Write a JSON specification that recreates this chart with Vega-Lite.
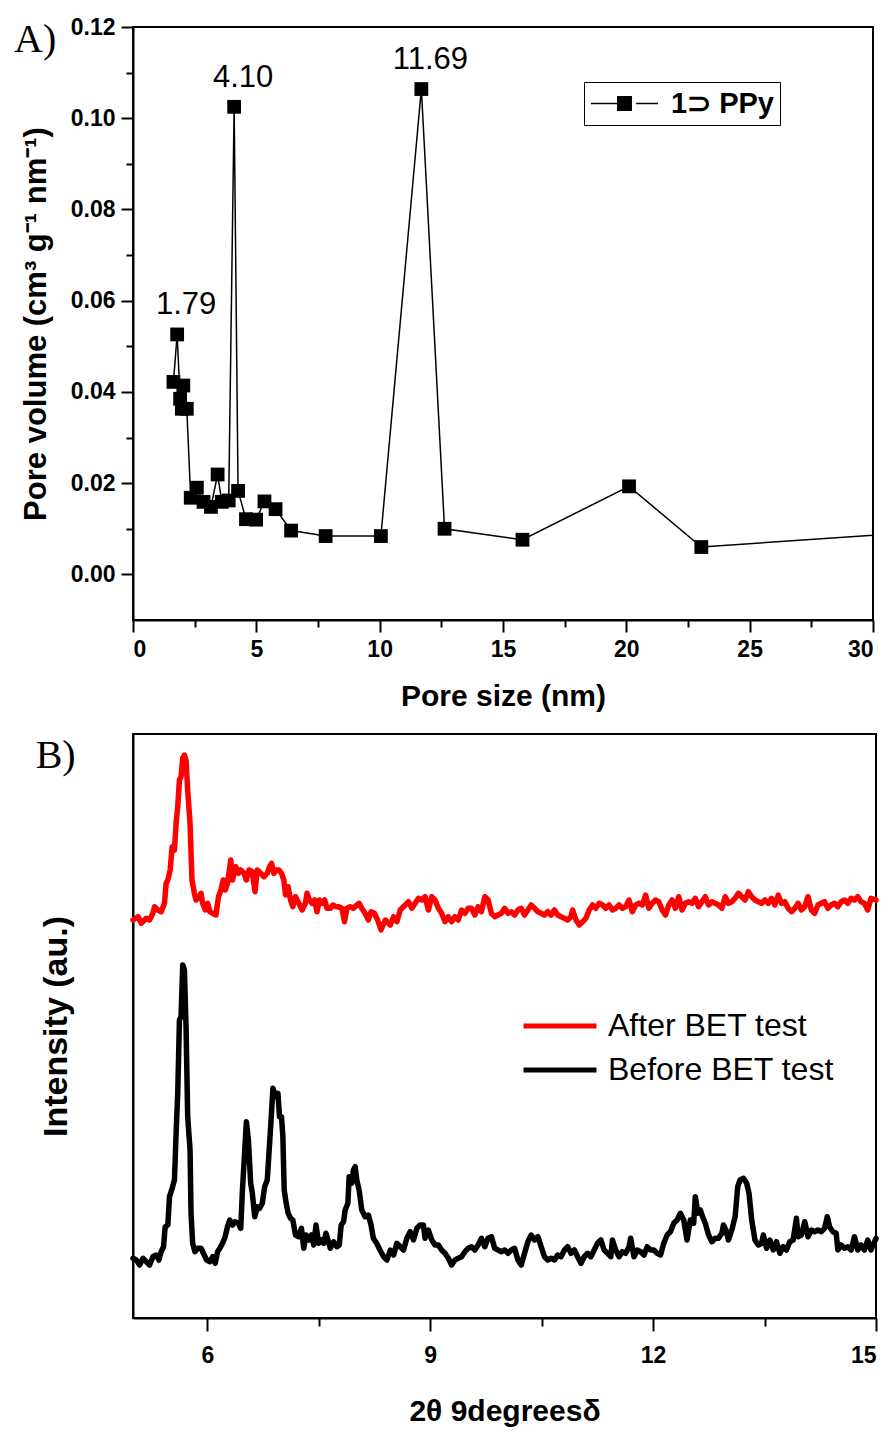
{
"$schema": "https://vega.github.io/schema/vega-lite/v6.json",
"background": "white",
"padding": {"left": 13, "top": 15, "right": 5, "bottom": 5},
"spacing": 21,
"resolve": {"scale": {"color": "independent"}, "legend": {"color": "independent"}},
"config": {
  "view": {"stroke": "black", "strokeWidth": 2},
  "axis": {"domainColor": "black", "tickColor": "black", "labelColor": "black", "titleColor": "black", "grid": false, "domainWidth": 2, "tickWidth": 2, "labelFont": "Liberation Sans", "titleFont": "Liberation Sans", "labelFontWeight": "bold", "titleFontWeight": "bold"}
},
"datasets": {
  "pore": [
    {"size": 1.64, "vol": 0.0422, "series": "1⊃ PPy"},
    {"size": 1.79, "vol": 0.0526, "series": "1⊃ PPy", "label": "1.79"},
    {"size": 1.91, "vol": 0.0385, "series": "1⊃ PPy"},
    {"size": 1.98, "vol": 0.0363, "series": "1⊃ PPy"},
    {"size": 2.04, "vol": 0.0414, "series": "1⊃ PPy"},
    {"size": 2.18, "vol": 0.0363, "series": "1⊃ PPy"},
    {"size": 2.34, "vol": 0.0168, "series": "1⊃ PPy"},
    {"size": 2.59, "vol": 0.0190, "series": "1⊃ PPy"},
    {"size": 2.86, "vol": 0.0159, "series": "1⊃ PPy"},
    {"size": 3.16, "vol": 0.0148, "series": "1⊃ PPy"},
    {"size": 3.43, "vol": 0.0219, "series": "1⊃ PPy"},
    {"size": 3.60, "vol": 0.0159, "series": "1⊃ PPy"},
    {"size": 3.88, "vol": 0.0162, "series": "1⊃ PPy"},
    {"size": 4.10, "vol": 0.1025, "series": "1⊃ PPy", "label": "4.10"},
    {"size": 4.26, "vol": 0.0183, "series": "1⊃ PPy"},
    {"size": 4.58, "vol": 0.0121, "series": "1⊃ PPy"},
    {"size": 4.99, "vol": 0.0120, "series": "1⊃ PPy"},
    {"size": 5.33, "vol": 0.0160, "series": "1⊃ PPy"},
    {"size": 5.78, "vol": 0.0143, "series": "1⊃ PPy"},
    {"size": 6.41, "vol": 0.0096, "series": "1⊃ PPy"},
    {"size": 7.81, "vol": 0.0084, "series": "1⊃ PPy"},
    {"size": 10.05, "vol": 0.0084, "series": "1⊃ PPy"},
    {"size": 11.69, "vol": 0.1064, "series": "1⊃ PPy", "label": "11.69"},
    {"size": 12.63, "vol": 0.0100, "series": "1⊃ PPy"},
    {"size": 15.79, "vol": 0.0076, "series": "1⊃ PPy"},
    {"size": 20.11, "vol": 0.0193, "series": "1⊃ PPy"},
    {"size": 23.04, "vol": 0.0060, "series": "1⊃ PPy"},
    {"size": 33.0, "vol": 0.0097, "series": "1⊃ PPy"}
  ],
  "xrd": [
    {"theta":5.000,"intensity":398,"series":"After BET test"},
    {"theta":5.067,"intensity":401.3,"series":"After BET test"},
    {"theta":5.112,"intensity":394.7,"series":"After BET test"},
    {"theta":5.178,"intensity":399.7,"series":"After BET test"},
    {"theta":5.223,"intensity":398,"series":"After BET test"},
    {"theta":5.268,"intensity":404.7,"series":"After BET test"},
    {"theta":5.290,"intensity":411.3,"series":"After BET test"},
    {"theta":5.335,"intensity":408,"series":"After BET test"},
    {"theta":5.379,"intensity":406.3,"series":"After BET test"},
    {"theta":5.424,"intensity":414.7,"series":"After BET test"},
    {"theta":5.446,"intensity":434.7,"series":"After BET test"},
    {"theta":5.469,"intensity":438,"series":"After BET test"},
    {"theta":5.500,"intensity":448,"series":"After BET test"},
    {"theta":5.527,"intensity":471.3,"series":"After BET test"},
    {"theta":5.558,"intensity":468,"series":"After BET test"},
    {"theta":5.580,"intensity":494.7,"series":"After BET test"},
    {"theta":5.602,"intensity":511.3,"series":"After BET test"},
    {"theta":5.625,"intensity":538,"series":"After BET test"},
    {"theta":5.647,"intensity":541.3,"series":"After BET test"},
    {"theta":5.669,"intensity":559.7,"series":"After BET test"},
    {"theta":5.692,"intensity":563,"series":"After BET test"},
    {"theta":5.714,"intensity":558,"series":"After BET test"},
    {"theta":5.736,"intensity":528,"series":"After BET test"},
    {"theta":5.768,"intensity":494.7,"series":"After BET test"},
    {"theta":5.794,"intensity":438,"series":"After BET test"},
    {"theta":5.826,"intensity":424.7,"series":"After BET test"},
    {"theta":5.848,"intensity":418,"series":"After BET test"},
    {"theta":5.892,"intensity":421.3,"series":"After BET test"},
    {"theta":5.915,"intensity":424.7,"series":"After BET test"},
    {"theta":5.937,"intensity":414.7,"series":"After BET test"},
    {"theta":5.973,"intensity":408,"series":"After BET test"},
    {"theta":6.004,"intensity":414.7,"series":"After BET test"},
    {"theta":6.035,"intensity":406.3,"series":"After BET test"},
    {"theta":6.071,"intensity":404.7,"series":"After BET test"},
    {"theta":6.116,"intensity":403,"series":"After BET test"},
    {"theta":6.151,"intensity":421.3,"series":"After BET test"},
    {"theta":6.183,"intensity":428,"series":"After BET test"},
    {"theta":6.214,"intensity":438,"series":"After BET test"},
    {"theta":6.241,"intensity":428,"series":"After BET test"},
    {"theta":6.272,"intensity":434.7,"series":"After BET test"},
    {"theta":6.316,"intensity":458,"series":"After BET test"},
    {"theta":6.339,"intensity":438,"series":"After BET test"},
    {"theta":6.383,"intensity":451.3,"series":"After BET test"},
    {"theta":6.419,"intensity":444.7,"series":"After BET test"},
    {"theta":6.450,"intensity":448,"series":"After BET test"},
    {"theta":6.495,"intensity":444.7,"series":"After BET test"},
    {"theta":6.526,"intensity":438,"series":"After BET test"},
    {"theta":6.562,"intensity":448,"series":"After BET test"},
    {"theta":6.606,"intensity":446.3,"series":"After BET test"},
    {"theta":6.642,"intensity":426.3,"series":"After BET test"},
    {"theta":6.673,"intensity":448,"series":"After BET test"},
    {"theta":6.718,"intensity":444.7,"series":"After BET test"},
    {"theta":6.763,"intensity":441.3,"series":"After BET test"},
    {"theta":6.807,"intensity":444.7,"series":"After BET test"},
    {"theta":6.838,"intensity":451.3,"series":"After BET test"},
    {"theta":6.865,"intensity":454.7,"series":"After BET test"},
    {"theta":6.896,"intensity":444.7,"series":"After BET test"},
    {"theta":6.928,"intensity":448,"series":"After BET test"},
    {"theta":6.963,"intensity":448,"series":"After BET test"},
    {"theta":6.999,"intensity":444.7,"series":"After BET test"},
    {"theta":7.030,"intensity":438,"series":"After BET test"},
    {"theta":7.053,"intensity":423,"series":"After BET test"},
    {"theta":7.088,"intensity":431.3,"series":"After BET test"},
    {"theta":7.120,"intensity":418,"series":"After BET test"},
    {"theta":7.151,"intensity":411.3,"series":"After BET test"},
    {"theta":7.187,"intensity":421.3,"series":"After BET test"},
    {"theta":7.231,"intensity":414.7,"series":"After BET test"},
    {"theta":7.276,"intensity":408,"series":"After BET test"},
    {"theta":7.320,"intensity":414.7,"series":"After BET test"},
    {"theta":7.343,"intensity":424.7,"series":"After BET test"},
    {"theta":7.374,"intensity":418,"series":"After BET test"},
    {"theta":7.410,"intensity":414.7,"series":"After BET test"},
    {"theta":7.445,"intensity":418,"series":"After BET test"},
    {"theta":7.477,"intensity":406.3,"series":"After BET test"},
    {"theta":7.508,"intensity":418,"series":"After BET test"},
    {"theta":7.544,"intensity":414.7,"series":"After BET test"},
    {"theta":7.579,"intensity":418,"series":"After BET test"},
    {"theta":7.610,"intensity":409.7,"series":"After BET test"},
    {"theta":7.655,"intensity":409.7,"series":"After BET test"},
    {"theta":7.691,"intensity":413,"series":"After BET test"},
    {"theta":7.731,"intensity":411.3,"series":"After BET test"},
    {"theta":7.767,"intensity":411.3,"series":"After BET test"},
    {"theta":7.811,"intensity":409.7,"series":"After BET test"},
    {"theta":7.847,"intensity":396.3,"series":"After BET test"},
    {"theta":7.878,"intensity":409.7,"series":"After BET test"},
    {"theta":7.923,"intensity":411.3,"series":"After BET test"},
    {"theta":7.967,"intensity":409.7,"series":"After BET test"},
    {"theta":8.012,"intensity":413,"series":"After BET test"},
    {"theta":8.043,"intensity":414.7,"series":"After BET test"},
    {"theta":8.079,"intensity":409.7,"series":"After BET test"},
    {"theta":8.124,"intensity":404.7,"series":"After BET test"},
    {"theta":8.168,"intensity":398,"series":"After BET test"},
    {"theta":8.204,"intensity":406.3,"series":"After BET test"},
    {"theta":8.249,"intensity":404.7,"series":"After BET test"},
    {"theta":8.293,"intensity":398,"series":"After BET test"},
    {"theta":8.338,"intensity":388,"series":"After BET test"},
    {"theta":8.396,"intensity":398,"series":"After BET test"},
    {"theta":8.463,"intensity":393,"series":"After BET test"},
    {"theta":8.507,"intensity":401.3,"series":"After BET test"},
    {"theta":8.552,"intensity":396.3,"series":"After BET test"},
    {"theta":8.597,"intensity":408,"series":"After BET test"},
    {"theta":8.664,"intensity":413,"series":"After BET test"},
    {"theta":8.708,"intensity":416.3,"series":"After BET test"},
    {"theta":8.753,"intensity":409.7,"series":"After BET test"},
    {"theta":8.797,"intensity":414.7,"series":"After BET test"},
    {"theta":8.842,"intensity":419.7,"series":"After BET test"},
    {"theta":8.887,"intensity":418,"series":"After BET test"},
    {"theta":8.931,"intensity":421.3,"series":"After BET test"},
    {"theta":8.976,"intensity":408,"series":"After BET test"},
    {"theta":9.021,"intensity":421.3,"series":"After BET test"},
    {"theta":9.065,"intensity":418,"series":"After BET test"},
    {"theta":9.110,"intensity":409.7,"series":"After BET test"},
    {"theta":9.154,"intensity":404.7,"series":"After BET test"},
    {"theta":9.199,"intensity":396.3,"series":"After BET test"},
    {"theta":9.244,"intensity":401.3,"series":"After BET test"},
    {"theta":9.288,"intensity":396.3,"series":"After BET test"},
    {"theta":9.333,"intensity":401.3,"series":"After BET test"},
    {"theta":9.378,"intensity":398,"series":"After BET test"},
    {"theta":9.422,"intensity":408,"series":"After BET test"},
    {"theta":9.467,"intensity":404.7,"series":"After BET test"},
    {"theta":9.511,"intensity":409.7,"series":"After BET test"},
    {"theta":9.556,"intensity":409.7,"series":"After BET test"},
    {"theta":9.601,"intensity":403,"series":"After BET test"},
    {"theta":9.645,"intensity":411.3,"series":"After BET test"},
    {"theta":9.690,"intensity":406.3,"series":"After BET test"},
    {"theta":9.735,"intensity":421.3,"series":"After BET test"},
    {"theta":9.779,"intensity":418,"series":"After BET test"},
    {"theta":9.824,"intensity":404.7,"series":"After BET test"},
    {"theta":9.868,"intensity":401.3,"series":"After BET test"},
    {"theta":9.913,"intensity":403,"series":"After BET test"},
    {"theta":9.958,"intensity":404.7,"series":"After BET test"},
    {"theta":10.002,"intensity":409.7,"series":"After BET test"},
    {"theta":10.047,"intensity":404.7,"series":"After BET test"},
    {"theta":10.092,"intensity":406.3,"series":"After BET test"},
    {"theta":10.136,"intensity":403,"series":"After BET test"},
    {"theta":10.181,"intensity":408,"series":"After BET test"},
    {"theta":10.225,"intensity":409.7,"series":"After BET test"},
    {"theta":10.270,"intensity":403,"series":"After BET test"},
    {"theta":10.315,"intensity":408,"series":"After BET test"},
    {"theta":10.359,"intensity":413,"series":"After BET test"},
    {"theta":10.404,"intensity":409.7,"series":"After BET test"},
    {"theta":10.449,"intensity":406.3,"series":"After BET test"},
    {"theta":10.493,"intensity":404.7,"series":"After BET test"},
    {"theta":10.538,"intensity":403,"series":"After BET test"},
    {"theta":10.582,"intensity":406.3,"series":"After BET test"},
    {"theta":10.627,"intensity":403,"series":"After BET test"},
    {"theta":10.672,"intensity":408,"series":"After BET test"},
    {"theta":10.716,"intensity":403,"series":"After BET test"},
    {"theta":10.761,"intensity":401.3,"series":"After BET test"},
    {"theta":10.806,"intensity":399.7,"series":"After BET test"},
    {"theta":10.850,"intensity":398,"series":"After BET test"},
    {"theta":10.895,"intensity":401.3,"series":"After BET test"},
    {"theta":10.917,"intensity":408,"series":"After BET test"},
    {"theta":10.962,"intensity":398,"series":"After BET test"},
    {"theta":11.006,"intensity":393,"series":"After BET test"},
    {"theta":11.051,"intensity":396.3,"series":"After BET test"},
    {"theta":11.096,"intensity":399.7,"series":"After BET test"},
    {"theta":11.140,"intensity":408,"series":"After BET test"},
    {"theta":11.185,"intensity":413,"series":"After BET test"},
    {"theta":11.229,"intensity":409.7,"series":"After BET test"},
    {"theta":11.274,"intensity":414.7,"series":"After BET test"},
    {"theta":11.319,"intensity":413,"series":"After BET test"},
    {"theta":11.363,"intensity":409.7,"series":"After BET test"},
    {"theta":11.408,"intensity":413,"series":"After BET test"},
    {"theta":11.453,"intensity":408,"series":"After BET test"},
    {"theta":11.497,"intensity":409.7,"series":"After BET test"},
    {"theta":11.542,"intensity":413,"series":"After BET test"},
    {"theta":11.586,"intensity":409.7,"series":"After BET test"},
    {"theta":11.631,"intensity":411.3,"series":"After BET test"},
    {"theta":11.676,"intensity":418,"series":"After BET test"},
    {"theta":11.720,"intensity":406.3,"series":"After BET test"},
    {"theta":11.765,"intensity":413,"series":"After BET test"},
    {"theta":11.810,"intensity":414.7,"series":"After BET test"},
    {"theta":11.854,"intensity":413,"series":"After BET test"},
    {"theta":11.899,"intensity":423,"series":"After BET test"},
    {"theta":11.943,"intensity":409.7,"series":"After BET test"},
    {"theta":11.988,"intensity":414.7,"series":"After BET test"},
    {"theta":12.033,"intensity":418,"series":"After BET test"},
    {"theta":12.077,"intensity":416.3,"series":"After BET test"},
    {"theta":12.122,"intensity":408,"series":"After BET test"},
    {"theta":12.167,"intensity":403,"series":"After BET test"},
    {"theta":12.211,"intensity":413,"series":"After BET test"},
    {"theta":12.256,"intensity":418,"series":"After BET test"},
    {"theta":12.300,"intensity":409.7,"series":"After BET test"},
    {"theta":12.345,"intensity":421.3,"series":"After BET test"},
    {"theta":12.390,"intensity":408,"series":"After BET test"},
    {"theta":12.434,"intensity":414.7,"series":"After BET test"},
    {"theta":12.479,"intensity":416.3,"series":"After BET test"},
    {"theta":12.523,"intensity":414.7,"series":"After BET test"},
    {"theta":12.568,"intensity":419.7,"series":"After BET test"},
    {"theta":12.613,"intensity":411.3,"series":"After BET test"},
    {"theta":12.657,"intensity":416.3,"series":"After BET test"},
    {"theta":12.702,"intensity":421.3,"series":"After BET test"},
    {"theta":12.747,"intensity":413,"series":"After BET test"},
    {"theta":12.791,"intensity":416.3,"series":"After BET test"},
    {"theta":12.836,"intensity":414.7,"series":"After BET test"},
    {"theta":12.880,"intensity":413,"series":"After BET test"},
    {"theta":12.925,"intensity":409.7,"series":"After BET test"},
    {"theta":12.970,"intensity":421.3,"series":"After BET test"},
    {"theta":13.014,"intensity":414.7,"series":"After BET test"},
    {"theta":13.059,"intensity":416.3,"series":"After BET test"},
    {"theta":13.104,"intensity":419.7,"series":"After BET test"},
    {"theta":13.148,"intensity":424.7,"series":"After BET test"},
    {"theta":13.193,"intensity":421.3,"series":"After BET test"},
    {"theta":13.237,"intensity":418,"series":"After BET test"},
    {"theta":13.282,"intensity":426.3,"series":"After BET test"},
    {"theta":13.327,"intensity":421.3,"series":"After BET test"},
    {"theta":13.371,"intensity":418,"series":"After BET test"},
    {"theta":13.416,"intensity":416.3,"series":"After BET test"},
    {"theta":13.461,"intensity":414.7,"series":"After BET test"},
    {"theta":13.505,"intensity":418,"series":"After BET test"},
    {"theta":13.550,"intensity":414.7,"series":"After BET test"},
    {"theta":13.594,"intensity":419.7,"series":"After BET test"},
    {"theta":13.639,"intensity":413,"series":"After BET test"},
    {"theta":13.684,"intensity":423,"series":"After BET test"},
    {"theta":13.728,"intensity":414.7,"series":"After BET test"},
    {"theta":13.773,"intensity":416.3,"series":"After BET test"},
    {"theta":13.818,"intensity":409.7,"series":"After BET test"},
    {"theta":13.862,"intensity":406.3,"series":"After BET test"},
    {"theta":13.907,"intensity":409.7,"series":"After BET test"},
    {"theta":13.951,"intensity":414.7,"series":"After BET test"},
    {"theta":13.996,"intensity":408,"series":"After BET test"},
    {"theta":14.041,"intensity":411.3,"series":"After BET test"},
    {"theta":14.085,"intensity":421.3,"series":"After BET test"},
    {"theta":14.130,"intensity":408,"series":"After BET test"},
    {"theta":14.174,"intensity":404.7,"series":"After BET test"},
    {"theta":14.219,"intensity":413,"series":"After BET test"},
    {"theta":14.264,"intensity":414.7,"series":"After BET test"},
    {"theta":14.308,"intensity":416.3,"series":"After BET test"},
    {"theta":14.353,"intensity":409.7,"series":"After BET test"},
    {"theta":14.398,"intensity":413,"series":"After BET test"},
    {"theta":14.442,"intensity":414.7,"series":"After BET test"},
    {"theta":14.487,"intensity":411.3,"series":"After BET test"},
    {"theta":14.531,"intensity":416.3,"series":"After BET test"},
    {"theta":14.576,"intensity":418,"series":"After BET test"},
    {"theta":14.621,"intensity":414.7,"series":"After BET test"},
    {"theta":14.665,"intensity":419.7,"series":"After BET test"},
    {"theta":14.710,"intensity":418,"series":"After BET test"},
    {"theta":14.755,"intensity":421.3,"series":"After BET test"},
    {"theta":14.799,"intensity":416.3,"series":"After BET test"},
    {"theta":14.844,"intensity":414.7,"series":"After BET test"},
    {"theta":14.889,"intensity":408,"series":"After BET test"},
    {"theta":14.933,"intensity":419.7,"series":"After BET test"},
    {"theta":15.000,"intensity":418,"series":"After BET test"},
    {"theta":5.000,"intensity":59.7,"series":"Before BET test"},
    {"theta":5.045,"intensity":58,"series":"Before BET test"},
    {"theta":5.089,"intensity":53,"series":"Before BET test"},
    {"theta":5.134,"intensity":59.7,"series":"Before BET test"},
    {"theta":5.178,"intensity":56.3,"series":"Before BET test"},
    {"theta":5.223,"intensity":53,"series":"Before BET test"},
    {"theta":5.268,"intensity":61.3,"series":"Before BET test"},
    {"theta":5.312,"intensity":63,"series":"Before BET test"},
    {"theta":5.348,"intensity":58,"series":"Before BET test"},
    {"theta":5.379,"intensity":66.3,"series":"Before BET test"},
    {"theta":5.411,"intensity":71.3,"series":"Before BET test"},
    {"theta":5.433,"intensity":91.3,"series":"Before BET test"},
    {"theta":5.469,"intensity":93,"series":"Before BET test"},
    {"theta":5.491,"intensity":121.3,"series":"Before BET test"},
    {"theta":5.527,"intensity":129.7,"series":"Before BET test"},
    {"theta":5.558,"intensity":138,"series":"Before BET test"},
    {"theta":5.580,"intensity":184.7,"series":"Before BET test"},
    {"theta":5.602,"intensity":224.7,"series":"Before BET test"},
    {"theta":5.625,"intensity":298,"series":"Before BET test"},
    {"theta":5.647,"intensity":301.3,"series":"Before BET test"},
    {"theta":5.669,"intensity":353,"series":"Before BET test"},
    {"theta":5.692,"intensity":348,"series":"Before BET test"},
    {"theta":5.714,"intensity":291.3,"series":"Before BET test"},
    {"theta":5.736,"intensity":201.3,"series":"Before BET test"},
    {"theta":5.768,"intensity":168,"series":"Before BET test"},
    {"theta":5.781,"intensity":104.7,"series":"Before BET test"},
    {"theta":5.803,"intensity":74.7,"series":"Before BET test"},
    {"theta":5.834,"intensity":66.3,"series":"Before BET test"},
    {"theta":5.870,"intensity":69.7,"series":"Before BET test"},
    {"theta":5.915,"intensity":69.7,"series":"Before BET test"},
    {"theta":5.959,"intensity":63,"series":"Before BET test"},
    {"theta":5.991,"intensity":58,"series":"Before BET test"},
    {"theta":6.035,"intensity":56.3,"series":"Before BET test"},
    {"theta":6.071,"intensity":61.3,"series":"Before BET test"},
    {"theta":6.107,"intensity":54.7,"series":"Before BET test"},
    {"theta":6.138,"intensity":66.3,"series":"Before BET test"},
    {"theta":6.169,"intensity":69.7,"series":"Before BET test"},
    {"theta":6.205,"intensity":74.7,"series":"Before BET test"},
    {"theta":6.241,"intensity":81.3,"series":"Before BET test"},
    {"theta":6.272,"intensity":91.3,"series":"Before BET test"},
    {"theta":6.303,"intensity":98,"series":"Before BET test"},
    {"theta":6.339,"intensity":93,"series":"Before BET test"},
    {"theta":6.374,"intensity":96.3,"series":"Before BET test"},
    {"theta":6.419,"intensity":94.7,"series":"Before BET test"},
    {"theta":6.450,"intensity":89.7,"series":"Before BET test"},
    {"theta":6.473,"intensity":128,"series":"Before BET test"},
    {"theta":6.504,"intensity":168,"series":"Before BET test"},
    {"theta":6.526,"intensity":196.3,"series":"Before BET test"},
    {"theta":6.553,"intensity":178,"series":"Before BET test"},
    {"theta":6.584,"intensity":134.7,"series":"Before BET test"},
    {"theta":6.606,"intensity":124.7,"series":"Before BET test"},
    {"theta":6.638,"intensity":101.3,"series":"Before BET test"},
    {"theta":6.673,"intensity":111.3,"series":"Before BET test"},
    {"theta":6.705,"intensity":109.7,"series":"Before BET test"},
    {"theta":6.740,"intensity":114.7,"series":"Before BET test"},
    {"theta":6.772,"intensity":131.3,"series":"Before BET test"},
    {"theta":6.807,"intensity":138,"series":"Before BET test"},
    {"theta":6.830,"intensity":164.7,"series":"Before BET test"},
    {"theta":6.861,"intensity":201.3,"series":"Before BET test"},
    {"theta":6.883,"intensity":229.7,"series":"Before BET test"},
    {"theta":6.919,"intensity":221.3,"series":"Before BET test"},
    {"theta":6.950,"intensity":224.7,"series":"Before BET test"},
    {"theta":6.972,"intensity":201.3,"series":"Before BET test"},
    {"theta":6.999,"intensity":201.3,"series":"Before BET test"},
    {"theta":7.017,"intensity":181.3,"series":"Before BET test"},
    {"theta":7.035,"intensity":128,"series":"Before BET test"},
    {"theta":7.062,"intensity":114.7,"series":"Before BET test"},
    {"theta":7.088,"intensity":104.7,"series":"Before BET test"},
    {"theta":7.120,"intensity":99.7,"series":"Before BET test"},
    {"theta":7.151,"intensity":98,"series":"Before BET test"},
    {"theta":7.187,"intensity":83,"series":"Before BET test"},
    {"theta":7.231,"intensity":81.3,"series":"Before BET test"},
    {"theta":7.267,"intensity":89.7,"series":"Before BET test"},
    {"theta":7.298,"intensity":69.7,"series":"Before BET test"},
    {"theta":7.329,"intensity":83,"series":"Before BET test"},
    {"theta":7.365,"intensity":78,"series":"Before BET test"},
    {"theta":7.401,"intensity":83,"series":"Before BET test"},
    {"theta":7.432,"intensity":73,"series":"Before BET test"},
    {"theta":7.463,"intensity":93,"series":"Before BET test"},
    {"theta":7.499,"intensity":74.7,"series":"Before BET test"},
    {"theta":7.535,"intensity":78,"series":"Before BET test"},
    {"theta":7.566,"intensity":74.7,"series":"Before BET test"},
    {"theta":7.597,"intensity":84.7,"series":"Before BET test"},
    {"theta":7.624,"intensity":78,"series":"Before BET test"},
    {"theta":7.655,"intensity":69.7,"series":"Before BET test"},
    {"theta":7.700,"intensity":76.3,"series":"Before BET test"},
    {"theta":7.744,"intensity":71.3,"series":"Before BET test"},
    {"theta":7.776,"intensity":73,"series":"Before BET test"},
    {"theta":7.802,"intensity":93,"series":"Before BET test"},
    {"theta":7.834,"intensity":96.3,"series":"Before BET test"},
    {"theta":7.856,"intensity":108,"series":"Before BET test"},
    {"theta":7.892,"intensity":114.7,"series":"Before BET test"},
    {"theta":7.909,"intensity":141.3,"series":"Before BET test"},
    {"theta":7.945,"intensity":134.7,"series":"Before BET test"},
    {"theta":7.967,"intensity":148,"series":"Before BET test"},
    {"theta":7.990,"intensity":151.3,"series":"Before BET test"},
    {"theta":8.012,"intensity":138,"series":"Before BET test"},
    {"theta":8.043,"intensity":128,"series":"Before BET test"},
    {"theta":8.079,"intensity":108,"series":"Before BET test"},
    {"theta":8.124,"intensity":101.3,"series":"Before BET test"},
    {"theta":8.168,"intensity":103,"series":"Before BET test"},
    {"theta":8.204,"intensity":93,"series":"Before BET test"},
    {"theta":8.235,"intensity":79.7,"series":"Before BET test"},
    {"theta":8.280,"intensity":74.7,"series":"Before BET test"},
    {"theta":8.324,"intensity":68,"series":"Before BET test"},
    {"theta":8.373,"intensity":61.3,"series":"Before BET test"},
    {"theta":8.418,"intensity":58,"series":"Before BET test"},
    {"theta":8.463,"intensity":68,"series":"Before BET test"},
    {"theta":8.507,"intensity":63,"series":"Before BET test"},
    {"theta":8.552,"intensity":74.7,"series":"Before BET test"},
    {"theta":8.597,"intensity":71.3,"series":"Before BET test"},
    {"theta":8.641,"intensity":68,"series":"Before BET test"},
    {"theta":8.686,"intensity":79.7,"series":"Before BET test"},
    {"theta":8.730,"intensity":86.3,"series":"Before BET test"},
    {"theta":8.775,"intensity":78,"series":"Before BET test"},
    {"theta":8.820,"intensity":89.7,"series":"Before BET test"},
    {"theta":8.864,"intensity":93,"series":"Before BET test"},
    {"theta":8.909,"intensity":93,"series":"Before BET test"},
    {"theta":8.931,"intensity":79.7,"series":"Before BET test"},
    {"theta":8.976,"intensity":88,"series":"Before BET test"},
    {"theta":9.021,"intensity":78,"series":"Before BET test"},
    {"theta":9.065,"intensity":73,"series":"Before BET test"},
    {"theta":9.110,"intensity":73,"series":"Before BET test"},
    {"theta":9.154,"intensity":68,"series":"Before BET test"},
    {"theta":9.199,"intensity":64.7,"series":"Before BET test"},
    {"theta":9.244,"intensity":59.7,"series":"Before BET test"},
    {"theta":9.288,"intensity":53,"series":"Before BET test"},
    {"theta":9.333,"intensity":58,"series":"Before BET test"},
    {"theta":9.378,"intensity":59.7,"series":"Before BET test"},
    {"theta":9.422,"intensity":61.3,"series":"Before BET test"},
    {"theta":9.467,"intensity":66.3,"series":"Before BET test"},
    {"theta":9.511,"intensity":69.7,"series":"Before BET test"},
    {"theta":9.556,"intensity":71.3,"series":"Before BET test"},
    {"theta":9.601,"intensity":68,"series":"Before BET test"},
    {"theta":9.645,"intensity":73,"series":"Before BET test"},
    {"theta":9.690,"intensity":79.7,"series":"Before BET test"},
    {"theta":9.735,"intensity":71.3,"series":"Before BET test"},
    {"theta":9.779,"intensity":79.7,"series":"Before BET test"},
    {"theta":9.824,"intensity":81.3,"series":"Before BET test"},
    {"theta":9.868,"intensity":69.7,"series":"Before BET test"},
    {"theta":9.913,"intensity":68,"series":"Before BET test"},
    {"theta":9.958,"intensity":66.3,"series":"Before BET test"},
    {"theta":10.002,"intensity":68,"series":"Before BET test"},
    {"theta":10.047,"intensity":64.7,"series":"Before BET test"},
    {"theta":10.092,"intensity":68,"series":"Before BET test"},
    {"theta":10.136,"intensity":69.7,"series":"Before BET test"},
    {"theta":10.181,"intensity":58,"series":"Before BET test"},
    {"theta":10.225,"intensity":53,"series":"Before BET test"},
    {"theta":10.270,"intensity":64.7,"series":"Before BET test"},
    {"theta":10.315,"intensity":76.3,"series":"Before BET test"},
    {"theta":10.359,"intensity":83,"series":"Before BET test"},
    {"theta":10.404,"intensity":78,"series":"Before BET test"},
    {"theta":10.449,"intensity":81.3,"series":"Before BET test"},
    {"theta":10.493,"intensity":71.3,"series":"Before BET test"},
    {"theta":10.538,"intensity":61.3,"series":"Before BET test"},
    {"theta":10.582,"intensity":58,"series":"Before BET test"},
    {"theta":10.627,"intensity":59.7,"series":"Before BET test"},
    {"theta":10.672,"intensity":58,"series":"Before BET test"},
    {"theta":10.716,"intensity":63,"series":"Before BET test"},
    {"theta":10.761,"intensity":61.3,"series":"Before BET test"},
    {"theta":10.806,"intensity":68,"series":"Before BET test"},
    {"theta":10.850,"intensity":71.3,"series":"Before BET test"},
    {"theta":10.895,"intensity":64.7,"series":"Before BET test"},
    {"theta":10.940,"intensity":68,"series":"Before BET test"},
    {"theta":10.984,"intensity":61.3,"series":"Before BET test"},
    {"theta":11.029,"intensity":54.7,"series":"Before BET test"},
    {"theta":11.073,"intensity":61.3,"series":"Before BET test"},
    {"theta":11.118,"intensity":64.7,"series":"Before BET test"},
    {"theta":11.163,"intensity":61.3,"series":"Before BET test"},
    {"theta":11.207,"intensity":68,"series":"Before BET test"},
    {"theta":11.252,"intensity":74.7,"series":"Before BET test"},
    {"theta":11.297,"intensity":78,"series":"Before BET test"},
    {"theta":11.341,"intensity":68,"series":"Before BET test"},
    {"theta":11.386,"intensity":64.7,"series":"Before BET test"},
    {"theta":11.430,"intensity":61.3,"series":"Before BET test"},
    {"theta":11.453,"intensity":78,"series":"Before BET test"},
    {"theta":11.497,"intensity":68,"series":"Before BET test"},
    {"theta":11.542,"intensity":61.3,"series":"Before BET test"},
    {"theta":11.586,"intensity":66.3,"series":"Before BET test"},
    {"theta":11.631,"intensity":64.7,"series":"Before BET test"},
    {"theta":11.676,"intensity":71.3,"series":"Before BET test"},
    {"theta":11.698,"intensity":79.7,"series":"Before BET test"},
    {"theta":11.743,"intensity":61.3,"series":"Before BET test"},
    {"theta":11.787,"intensity":68,"series":"Before BET test"},
    {"theta":11.832,"intensity":66.3,"series":"Before BET test"},
    {"theta":11.877,"intensity":63,"series":"Before BET test"},
    {"theta":11.921,"intensity":71.3,"series":"Before BET test"},
    {"theta":11.966,"intensity":68,"series":"Before BET test"},
    {"theta":12.010,"intensity":68,"series":"Before BET test"},
    {"theta":12.055,"intensity":64.7,"series":"Before BET test"},
    {"theta":12.100,"intensity":63,"series":"Before BET test"},
    {"theta":12.144,"intensity":74.7,"series":"Before BET test"},
    {"theta":12.189,"intensity":83,"series":"Before BET test"},
    {"theta":12.233,"intensity":86.3,"series":"Before BET test"},
    {"theta":12.278,"intensity":94.7,"series":"Before BET test"},
    {"theta":12.323,"intensity":98,"series":"Before BET test"},
    {"theta":12.367,"intensity":104.7,"series":"Before BET test"},
    {"theta":12.412,"intensity":98,"series":"Before BET test"},
    {"theta":12.457,"intensity":78,"series":"Before BET test"},
    {"theta":12.501,"intensity":98,"series":"Before BET test"},
    {"theta":12.546,"intensity":94.7,"series":"Before BET test"},
    {"theta":12.568,"intensity":121.3,"series":"Before BET test"},
    {"theta":12.604,"intensity":104.7,"series":"Before BET test"},
    {"theta":12.635,"intensity":108,"series":"Before BET test"},
    {"theta":12.666,"intensity":101.3,"series":"Before BET test"},
    {"theta":12.702,"intensity":94.7,"series":"Before BET test"},
    {"theta":12.747,"intensity":83,"series":"Before BET test"},
    {"theta":12.791,"intensity":76.3,"series":"Before BET test"},
    {"theta":12.836,"intensity":79.7,"series":"Before BET test"},
    {"theta":12.880,"intensity":79.7,"series":"Before BET test"},
    {"theta":12.925,"intensity":84.7,"series":"Before BET test"},
    {"theta":12.947,"intensity":93,"series":"Before BET test"},
    {"theta":12.979,"intensity":88,"series":"Before BET test"},
    {"theta":13.014,"intensity":78,"series":"Before BET test"},
    {"theta":13.059,"intensity":88,"series":"Before BET test"},
    {"theta":13.104,"intensity":101.3,"series":"Before BET test"},
    {"theta":13.139,"intensity":131.3,"series":"Before BET test"},
    {"theta":13.170,"intensity":138,"series":"Before BET test"},
    {"theta":13.215,"intensity":139.7,"series":"Before BET test"},
    {"theta":13.260,"intensity":134.7,"series":"Before BET test"},
    {"theta":13.291,"intensity":124.7,"series":"Before BET test"},
    {"theta":13.327,"intensity":98,"series":"Before BET test"},
    {"theta":13.371,"intensity":78,"series":"Before BET test"},
    {"theta":13.416,"intensity":73,"series":"Before BET test"},
    {"theta":13.461,"intensity":74.7,"series":"Before BET test"},
    {"theta":13.483,"intensity":83,"series":"Before BET test"},
    {"theta":13.528,"intensity":69.7,"series":"Before BET test"},
    {"theta":13.572,"intensity":78,"series":"Before BET test"},
    {"theta":13.617,"intensity":68,"series":"Before BET test"},
    {"theta":13.661,"intensity":76.3,"series":"Before BET test"},
    {"theta":13.706,"intensity":64.7,"series":"Before BET test"},
    {"theta":13.751,"intensity":71.3,"series":"Before BET test"},
    {"theta":13.795,"intensity":68,"series":"Before BET test"},
    {"theta":13.840,"intensity":76.3,"series":"Before BET test"},
    {"theta":13.885,"intensity":78,"series":"Before BET test"},
    {"theta":13.929,"intensity":99.7,"series":"Before BET test"},
    {"theta":13.952,"intensity":81.3,"series":"Before BET test"},
    {"theta":13.996,"intensity":83,"series":"Before BET test"},
    {"theta":14.041,"intensity":96.3,"series":"Before BET test"},
    {"theta":14.085,"intensity":81.3,"series":"Before BET test"},
    {"theta":14.130,"intensity":88,"series":"Before BET test"},
    {"theta":14.174,"intensity":86.3,"series":"Before BET test"},
    {"theta":14.219,"intensity":88,"series":"Before BET test"},
    {"theta":14.264,"intensity":86.3,"series":"Before BET test"},
    {"theta":14.308,"intensity":89.7,"series":"Before BET test"},
    {"theta":14.344,"intensity":101.3,"series":"Before BET test"},
    {"theta":14.375,"intensity":91.3,"series":"Before BET test"},
    {"theta":14.420,"intensity":86.3,"series":"Before BET test"},
    {"theta":14.464,"intensity":84.7,"series":"Before BET test"},
    {"theta":14.487,"intensity":68,"series":"Before BET test"},
    {"theta":14.531,"intensity":73,"series":"Before BET test"},
    {"theta":14.576,"intensity":69.7,"series":"Before BET test"},
    {"theta":14.621,"intensity":71.3,"series":"Before BET test"},
    {"theta":14.665,"intensity":68,"series":"Before BET test"},
    {"theta":14.710,"intensity":81.3,"series":"Before BET test"},
    {"theta":14.755,"intensity":68,"series":"Before BET test"},
    {"theta":14.799,"intensity":73,"series":"Before BET test"},
    {"theta":14.844,"intensity":68,"series":"Before BET test"},
    {"theta":14.889,"intensity":78,"series":"Before BET test"},
    {"theta":14.933,"intensity":68,"series":"Before BET test"},
    {"theta":15.000,"intensity":79.7,"series":"Before BET test"}
  ]
},
"vconcat": [
  {
    "width": 740,
    "height": 593,
    "layer": [
      {"data": {"name": "pore"},
        "mark": {"type": "line", "color": "black", "strokeWidth": 1.5, "clip": true},
        "encoding": {
          "x": {"field": "size", "type": "quantitative", "scale": {"domain": [0, 30], "nice": false, "zero": false},
            "axis": {"values": [0, 2.5, 5, 7.5, 10, 12.5, 15, 17.5, 20, 22.5, 25, 27.5, 30], "labelExpr": "datum.value % 5 == 0 ? format(datum.value, 'd') : ''", "tickSize": {"condition": {"test": "datum.value % 5 == 0", "value": 12}, "value": 7}, "labelFontSize": 23, "labelPadding": 6, "title": "Pore size (nm)", "titleFontSize": 30, "titlePadding": 20}},
          "y": {"field": "vol", "type": "quantitative", "scale": {"domain": [-0.01, 0.12], "nice": false, "zero": false},
            "axis": {"values": [0, 0.01, 0.02, 0.03, 0.04, 0.05, 0.06, 0.07, 0.08, 0.09, 0.1, 0.11, 0.12], "format": ".2f", "labelExpr": "round(datum.value*100) % 2 == 0 ? datum.label : ''", "tickSize": {"condition": {"test": "round(datum.value*100) % 2 == 0", "value": 12}, "value": 7}, "labelFontSize": 23, "labelPadding": 6, "title": "Pore volume (cm³ g⁻¹ nm⁻¹)", "titleFontSize": 31, "titlePadding": 18}}
        }},
      {"data": {"name": "pore"},
        "mark": {"type": "square", "size": 190, "filled": true, "opacity": 1, "clip": true},
        "encoding": {
          "x": {"field": "size", "type": "quantitative"},
          "y": {"field": "vol", "type": "quantitative"},
          "color": {"field": "series", "type": "nominal", "scale": {"range": ["black"]},
            "legend": {"orient": "none", "legendX": 451, "legendY": 55, "title": null, "strokeColor": "black", "padding": 6, "symbolType": "M-1,0H-0.2M0.35,0H1M-0.2,-0.2H0.2V0.2H-0.2Z", "symbolSize": 4489, "clipHeight": 31, "symbolStrokeColor": "black", "symbolFillColor": "black", "symbolStrokeWidth": 1.5, "labelFont": "Liberation Sans", "labelFontSize": 29, "labelFontWeight": "bold", "labelColor": "black", "labelOffset": 12, "labelLimit": 300}}}},
      {"data": {"name": "pore"},
        "transform": [{"filter": "datum.label != null"}],
        "mark": {"type": "text", "font": "Liberation Sans", "fontSize": 31, "baseline": "alphabetic", "align": "center", "dx": 9, "dy": -20, "color": "black"},
        "encoding": {
          "x": {"field": "size", "type": "quantitative"},
          "y": {"field": "vol", "type": "quantitative"},
          "text": {"field": "label", "type": "nominal"}}},
      {"data": {"values": [{"panel": "A)"}]},
        "mark": {"type": "text", "font": "Liberation Serif", "fontSize": 40, "baseline": "alphabetic", "align": "left", "color": "black"},
        "encoding": {
          "x": {"datum": -4.82, "type": "quantitative"},
          "y": {"datum": 0.1145, "type": "quantitative"},
          "text": {"field": "panel", "type": "nominal"}}}
    ]
  },
  {
    "width": 743,
    "height": 584,
    "layer": [
      {"data": {"name": "xrd"},
        "mark": {"type": "line", "strokeWidth": 5.5, "strokeJoin": "round", "strokeCap": "round"},
        "encoding": {
          "x": {"field": "theta", "type": "quantitative", "scale": {"domain": [5, 15], "nice": false, "zero": false},
            "axis": {"values": [6, 7.5, 9, 10.5, 12, 13.5, 15], "labelExpr": "datum.value % 3 == 0 ? format(datum.value, 'd') : ''", "tickSize": {"condition": {"test": "datum.value % 3 == 0", "value": 13}, "value": 8}, "labelFontSize": 23, "labelPadding": 13, "title": "2θ 9degreesδ", "titleFontSize": 30, "titlePadding": 29}},
          "y": {"field": "intensity", "type": "quantitative", "scale": {"domain": [0, 584], "nice": false, "zero": false},
            "axis": {"labels": false, "ticks": false, "title": "Intensity (au.)", "titleFontSize": 34, "titlePadding": 60}},
          "color": {"field": "series", "type": "nominal", "scale": {"domain": ["After BET test", "Before BET test"], "range": ["#ff0000", "#000000"]},
            "legend": {"orient": "none", "legendX": 388, "legendY": 277, "title": null, "padding": 0, "symbolType": "M-1,0H1", "symbolSize": 5329, "symbolStrokeWidth": 5, "clipHeight": 30, "rowPadding": 12, "labelFont": "Liberation Sans", "labelFontSize": 32, "labelColor": "black", "labelOffset": 9, "labelLimit": 400}}
        }},
      {"data": {"values": [{"panel": "B)"}]},
        "mark": {"type": "text", "font": "Liberation Serif", "fontSize": 40, "baseline": "alphabetic", "align": "left", "color": "black"},
        "encoding": {
          "x": {"datum": 3.69, "type": "quantitative"},
          "y": {"datum": 550, "type": "quantitative"},
          "text": {"field": "panel", "type": "nominal"}}}
    ]
  }
]
}
